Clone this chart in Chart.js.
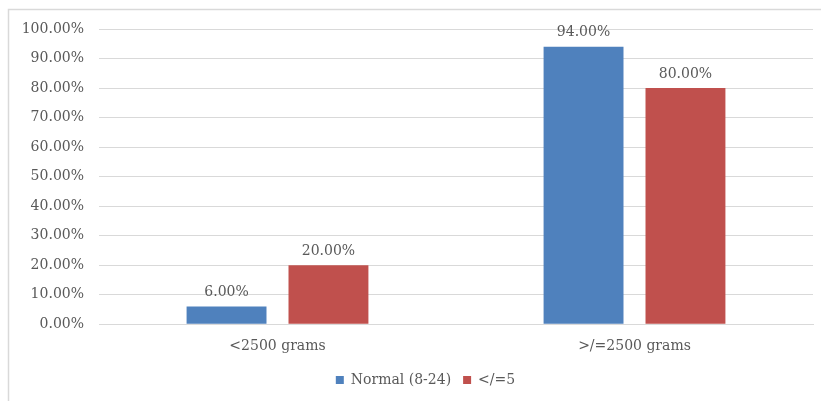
<!DOCTYPE html>
<html>
<head>
<meta charset="utf-8">
<script src="https://cdn.jsdelivr.net/npm/chart.js@4/dist/chart.umd.min.js"></script>
<style>
  html, body { margin: 0; padding: 0; background: #fff; }
  #wrap { position: relative; width: 821px; height: 401px; }
</style>
</head>
<body>
<div id="wrap"><canvas id="c" width="821" height="401"></canvas></div>
<script>
const categories = ['<2500 grams', '>/=2500 grams'];
const seriesNames = ['Normal (8-24)', '</=5'];
const normalValues = [6, 94];
const lowValues = [20, 80];
const seriesColors = ['#4F81BD', '#C0504D'];

const FONT = '"DejaVu Serif", "Liberation Serif", serif';
const TEXT = '#595959';

// outer frame: only top and left edges fall inside the canvas
const framePlugin = {
  id: 'frame',
  beforeDraw(chart) {
    const ctx = chart.ctx;
    ctx.save();
    ctx.strokeStyle = '#d9d9d9';
    ctx.lineWidth = 1.5;
    ctx.beginPath();
    ctx.moveTo(8.5, 401);
    ctx.lineTo(8.5, 9.5);
    ctx.lineTo(821, 9.5);
    ctx.stroke();
    ctx.restore();
  }
};

// nudge the legend to the right, under the plot centre
const legendShift = {
  id: 'legendShift',
  afterLayout(chart) {
    if (chart.legend) {
      chart.legend.left += 19;
      chart.legend.right += 19;
    }
  }
};

// value labels above each bar
const valueLabels = {
  id: 'valueLabels',
  afterDatasetsDraw(chart) {
    const ctx = chart.ctx;
    ctx.save();
    ctx.font = '14px ' + FONT;
    ctx.fillStyle = TEXT;
    ctx.textAlign = 'center';
    ctx.textBaseline = 'bottom';
    chart.data.datasets.forEach((ds, i) => {
      chart.getDatasetMeta(i).data.forEach((bar, j) => {
        ctx.fillText(ds.data[j].toFixed(2) + '%', bar.x, bar.y - 7);
      });
    });
    ctx.restore();
  }
};

new Chart(document.getElementById('c'), {
  type: 'bar',
  data: {
    labels: categories,
    datasets: [
      { label: seriesNames[0], data: normalValues, backgroundColor: seriesColors[0] },
      { label: seriesNames[1], data: lowValues, backgroundColor: seriesColors[1] }
    ]
  },
  options: {
    responsive: false,
    animation: false,
    events: [],
    layout: { padding: { left: 0, right: 8, top: 29, bottom: 4 } },
    datasets: { bar: { categoryPercentage: 0.571, barPercentage: 0.784 } },
    scales: {
      x: {
        grid: { display: false },
        border: { display: true, color: '#d9d9d9', width: 1 },
        ticks: { color: TEXT, font: { family: FONT, size: 14 }, padding: 6 }
      },
      y: {
        min: 0, max: 100,
        afterFit(s) { s.width = 99; },
        grid: { color: '#d9d9d9', drawTicks: false },
        border: { display: false },
        ticks: {
          stepSize: 10,
          padding: 15,
          color: TEXT,
          font: { family: FONT, size: 14 },
          callback: v => v.toFixed(2) + '%'
        }
      }
    },
    plugins: {
      legend: {
        position: 'bottom',
        labels: { boxWidth: 8, boxHeight: 8, color: TEXT, font: { family: FONT, size: 14 }, padding: 12 }
      },
      tooltip: { enabled: false }
    }
  },
  plugins: [framePlugin, legendShift, valueLabels]
});
</script>
</body>
</html>
